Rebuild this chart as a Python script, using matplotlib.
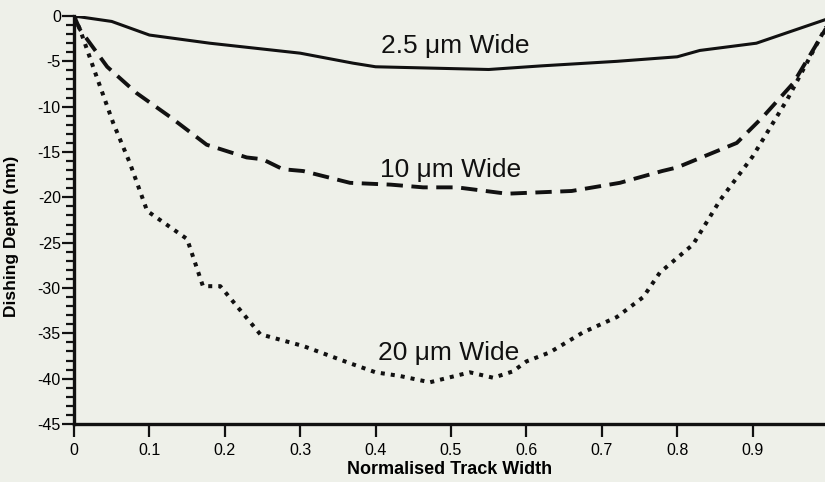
import matplotlib
matplotlib.use("Agg")
import matplotlib.pyplot as plt
from matplotlib.ticker import MultipleLocator

plt.rcParams.update({
    "font.family": ["Liberation Sans", "DejaVu Sans"],
    "axes.unicode_minus": False,
})

# 2.5 um wide track
x_25 = [0, 0.05, 0.1, 0.18, 0.3, 0.37, 0.4, 0.5, 0.55, 0.62, 0.72, 0.8, 0.83, 0.905, 1.0]
y_25 = [0, -0.6, -2.1, -3.0, -4.1, -5.2, -5.6, -5.8, -5.9, -5.5, -5.0, -4.5, -3.8, -3.0, -0.3]

# 10 um wide track
x_10 = [0, 0.008, 0.044, 0.083, 0.127, 0.176, 0.229, 0.25, 0.277, 0.304, 0.366, 0.42,
        0.463, 0.508, 0.574, 0.66, 0.724, 0.78, 0.80, 0.879, 0.914, 0.954, 1.0]
y_10 = [0, -1.5, -5.6, -8.5, -11.1, -14.2, -15.6, -15.8, -16.9, -17.1, -18.4, -18.6,
        -18.9, -18.9, -19.6, -19.3, -18.4, -17.1, -16.7, -14.0, -11.1, -7.4, -1.0]

# 20 um wide track
x_20 = [0, 0.008, 0.03, 0.052, 0.074, 0.097, 0.15, 0.171, 0.194, 0.247, 0.304, 0.366,
        0.40, 0.432, 0.472, 0.525, 0.556, 0.582, 0.60, 0.631, 0.675, 0.72, 0.755,
        0.777, 0.821, 0.857, 0.90, 0.946, 1.0]
y_20 = [0, -1.5, -6.7, -11.8, -16.2, -21.5, -24.6, -29.8, -29.8, -35.1, -36.4, -38.3,
        -39.3, -39.7, -40.4, -39.3, -39.9, -39.2, -38.1, -37.1, -34.9, -33.2, -31.0,
        -28.3, -25.2, -20.3, -15.5, -9.2, -0.8]

series_labels = ["2.5 \u03bcm Wide", "10 \u03bcm Wide", "20 \u03bcm Wide"]
label_pos = [(0.505, -3.3), (0.50, -17.0), (0.497, -37.2)]

xticks = [0, 0.1, 0.2, 0.3, 0.4, 0.5, 0.6, 0.7, 0.8, 0.9]
xticklabels = ["0", "0.1", "0.2", "0.3", "0.4", "0.5", "0.6", "0.7", "0.8", "0.9"]
yticks = [0, -5, -10, -15, -20, -25, -30, -35, -40, -45]

bg = "#eef0e9"
fig = plt.figure(figsize=(8.25, 4.82), dpi=100, facecolor=bg)
ax = fig.add_axes([74 / 825, 58 / 482, 751 / 825, 408 / 482], facecolor=bg)

ax.plot(x_25, y_25, color="#111111", linewidth=2.2, linestyle="-")
ax.plot(x_10, y_10, color="#111111", linewidth=2.8, linestyle=(0, (4.2, 2.2)))
ax.plot(x_20, y_20, color="#111111", linewidth=2.9, linestyle=(0, (1.0, 1.5)))

for (lx, ly), txt in zip(label_pos, series_labels):
    ax.text(lx, ly, txt, ha="center", va="center", fontsize=19, color="#111111")

ax.set_xlim(0, 751 / 754)
ax.set_ylim(-45, 0)
ax.set_xticks(xticks)
ax.set_xticklabels(xticklabels)
ax.set_yticks(yticks)
ax.yaxis.set_minor_locator(MultipleLocator(1))

for s in ["top", "right"]:
    ax.spines[s].set_visible(False)
for s in ["left", "bottom"]:
    ax.spines[s].set_linewidth(2.4)
    ax.spines[s].set_color("#111111")

ax.tick_params(axis="both", which="major", direction="out", width=1.6,
               color="#111111", labelsize=11.5)
ax.tick_params(axis="y", which="major", length=8.5, pad=1)
ax.tick_params(axis="y", which="minor", length=5.5, width=1.6, color="#111111")
ax.tick_params(axis="x", which="major", length=9.5, pad=4)

ax.set_xlabel("Normalised Track Width", fontsize=13, fontweight="bold", labelpad=2)
ax.set_ylabel("Dishing Depth (nm)", fontsize=12.5, fontweight="bold")
ax.yaxis.set_label_coords(-0.073, 0.46)

fig.savefig("out.png", dpi=100, facecolor=bg)
